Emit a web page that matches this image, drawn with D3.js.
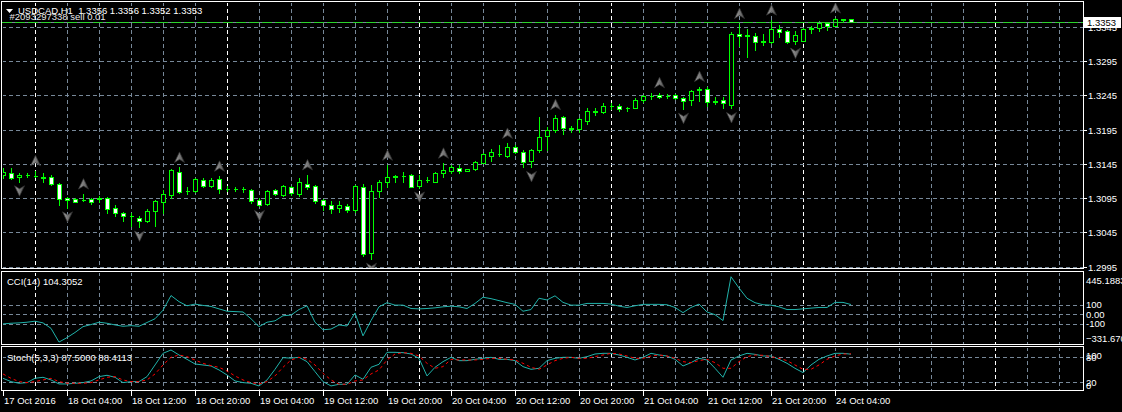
<!DOCTYPE html>
<html><head><meta charset="utf-8">
<script src="https://cdn.jsdelivr.net/npm/d3@7"></script>
<style>
html,body{margin:0;padding:0;background:#000;overflow:hidden}
svg{display:block}
text{font-family:"Liberation Sans",Arial,sans-serif;font-size:9.5px;white-space:pre}
</style>
</head><body><svg id="c" width="1122" height="412"></svg>
<script>
// ---------- DATA ----------
const symbol = "USDCAD,H1";
const orderLabel = "#2093297338 sell 0.01";
const sessions = [["2016-10-17",20,23],["2016-10-18",0,23],["2016-10-19",0,23],["2016-10-20",0,23],["2016-10-21",0,23],["2016-10-24",0,6]];
const open = [1.3129,1.3132,1.3126,1.3129,1.3127,1.3126,1.3126,1.3116,1.3095,1.3094,1.3093,1.3094,1.3096,1.3096,1.3080,1.3073,1.3069,1.3066,1.3062,1.3077,
1.3090,1.3100,1.3134,1.3106,1.3106,1.3121,1.3113,1.3123,1.3109,1.3109,1.3108,1.3107,1.3092,1.3086,1.3107,1.3100,1.3111,1.3101,1.3116,1.3113,
1.3092,1.3085,1.3081,1.3083,1.3078,1.3111,1.3015,1.3106,1.3118,1.3126,1.3127,1.3129,1.3113,1.3121,1.3119,1.3132,1.3135,1.3139,1.3135,1.3137,
1.3147,1.3157,1.3159,1.3157,1.3170,1.3162,1.3149,1.3165,1.3186,1.3195,1.3213,1.3196,1.3196,1.3208,1.3221,1.3221,1.3229,1.3230,1.3226,1.3227,
1.3238,1.3244,1.3246,1.3244,1.3245,1.3241,1.3238,1.3253,1.3254,1.3236,1.3238,1.3231,1.3335,1.3332,1.3332,1.3323,1.3323,1.3342,1.3339,1.3325,
1.3325,1.3342,1.3344,1.3351,1.3347,1.3355,1.3356];
const high = [1.3139,1.3139,1.3132,1.3132,1.3135,1.3132,1.3129,1.3117,1.3097,1.3095,1.3101,1.3095,1.3098,1.3097,1.3085,1.3075,1.3074,1.3069,1.3079,1.3092,
1.3107,1.3138,1.3140,1.3111,1.3125,1.3125,1.3125,1.3127,1.3113,1.3112,1.3111,1.3108,1.3095,1.3107,1.3108,1.3114,1.3113,1.3124,1.3129,1.3114,
1.3094,1.3091,1.3091,1.3087,1.3114,1.3116,1.3114,1.3122,1.3143,1.3129,1.3134,1.3130,1.3129,1.3126,1.3134,1.3146,1.3143,1.3143,1.3138,1.3149,
1.3161,1.3167,1.3173,1.3175,1.3173,1.3165,1.3167,1.3214,1.3199,1.3217,1.3215,1.3200,1.3212,1.3226,1.3227,1.3234,1.3234,1.3232,1.3228,1.3241,
1.3246,1.3248,1.3249,1.3247,1.3247,1.3243,1.3253,1.3258,1.3257,1.3243,1.3243,1.3337,1.3350,1.3342,1.3336,1.3335,1.3355,1.3348,1.3341,1.3339,
1.3343,1.3346,1.3354,1.3352,1.3358,1.3357,1.3356];
const low = [1.3125,1.3123,1.3119,1.3126,1.3126,1.3119,1.3114,1.3085,1.3081,1.3089,1.3091,1.3087,1.3090,1.3073,1.3069,1.3061,1.3054,1.3053,1.3060,1.3055,
1.3073,1.3095,1.3103,1.3101,1.3104,1.3111,1.3111,1.3103,1.3106,1.3106,1.3104,1.3088,1.3083,1.3085,1.3100,1.3098,1.3100,1.3098,1.3109,1.3088,
1.3078,1.3073,1.3075,1.3075,1.3075,1.3010,1.3006,1.3097,1.3112,1.3118,1.3118,1.3111,1.3110,1.3118,1.3118,1.3126,1.3132,1.3132,1.3135,1.3136,
1.3146,1.3150,1.3157,1.3155,1.3161,1.3141,1.3140,1.3162,1.3166,1.3192,1.3189,1.3192,1.3192,1.3204,1.3217,1.3219,1.3225,1.3223,1.3223,1.3226,
1.3236,1.3240,1.3242,1.3241,1.3240,1.3225,1.3231,1.3237,1.3230,1.3233,1.3227,1.3226,1.3317,1.3301,1.3311,1.3318,1.3321,1.3330,1.3322,1.3320,
1.3324,1.3336,1.3339,1.3340,1.3346,1.3352,1.3352];
const close = [1.3133,1.3125,1.3129,1.3129,1.3127,1.3125,1.3116,1.3094,1.3092,1.3090,1.3092,1.3090,1.3094,1.3079,1.3074,1.3069,1.3069,1.3062,1.3076,1.3091,
1.3101,1.3136,1.3104,1.3105,1.3123,1.3113,1.3122,1.3108,1.3109,1.3108,1.3109,1.3091,1.3085,1.3105,1.3101,1.3113,1.3102,1.3118,1.3111,1.3091,
1.3085,1.3079,1.3085,1.3078,1.3113,1.3014,1.3106,1.3118,1.3126,1.3127,1.3127,1.3112,1.3122,1.3122,1.3132,1.3136,1.3141,1.3135,1.3138,1.3148,
1.3159,1.3162,1.3160,1.3170,1.3162,1.3148,1.3166,1.3185,1.3195,1.3212,1.3197,1.3197,1.3210,1.3222,1.3222,1.3230,1.3230,1.3225,1.3227,1.3238,
1.3244,1.3244,1.3243,1.3244,1.3241,1.3237,1.3252,1.3254,1.3236,1.3237,1.3234,1.3335,1.3332,1.3333,1.3323,1.3325,1.3342,1.3338,1.3323,1.3334,
1.3342,1.3344,1.3351,1.3347,1.3357,1.3356,1.3353];
const fractalUp = [4,10,22,27,38,48,55,63,69,82,87,92,96,104];
const fractalDown = [2,8,17,32,46,52,66,85,91,99];
const cci = [-102,-95,-91,-84,-73,-91,-149,-295,-248,-193,-131,-109,-84,-95,-113,-127,-120,-127,-87,-47,
44,200,135,91,109,95,84,58,33,29,25,-47,-131,-84,-69,-15,-8,51,91,-84,
-164,-157,-113,-124,15,-229,-66,80,124,98,98,62,58,62,69,80,87,80,62,116,
182,167,146,124,106,33,51,171,153,197,127,98,98,116,116,116,109,87,73,91,
106,106,106,102,73,18,73,109,25,-4,-66,400,280,171,124,102,98,80,51,51,
58,66,73,73,127,127,104.3052];
const stochMain = [29.6,21.6,17.6,19.2,29.6,32,25.6,16,16,17.6,19.2,23.2,33.6,36.8,32,19.2,21.6,21.6,33.6,61.6,
89.6,97.6,85.6,75.2,64,61.6,59.2,49.6,37.6,23.2,19.2,17.6,11.2,25.6,51.2,79.2,78,80,69.6,45.6,
21.6,11.2,15.2,15.2,37.6,27.2,56,63.2,92,92,91.2,88,77.6,35.2,56,69.6,80,72,72,75.2,
77.6,80,75.2,75.2,72,57.6,51.2,53.6,72,77.6,80,80,77.6,81.6,88,89.6,89.6,85.6,80,73.6,
80,89.6,85.6,83.2,75.2,59.2,67.2,77.6,73.6,53.6,32,73.6,83.2,89.6,87.2,83.2,83.2,75.2,65.6,53.6,
43.2,61.6,75.2,83.2,89.6,89.6,87.5];
const stochSignal = [40,29.6,21.6,19.2,21.6,25.6,29.6,21.6,17.6,17.6,17.6,19.2,25.6,32,33.6,25.6,21.6,21.6,25.6,40,
61.6,80,85.6,81.6,73.6,65.6,60,56,47.2,35.2,25.6,19.2,16,21.6,35.2,56,73.6,80,75.2,61.6,
41.6,25.6,15.2,15.2,23.2,25.6,40,49.6,73.6,88,91.2,89.6,83.2,65.6,53.6,57.6,75.2,73.6,73.6,73.6,
75.2,77.6,77.6,75.2,73.6,65.6,56,51.2,61.6,72,77.6,80,77.6,77.6,81.6,85.6,89.6,88,83.2,77.6,
77.6,83.2,85.6,83.2,77.6,69.6,67.2,72,75.2,67.2,53.6,53.6,69.6,81.6,85.6,84.8,81.6,77.6,72,61.6,
51.2,51.2,61.6,75.2,83.2,88,88.4113];
const priceTicks = [1.3345,1.3295,1.3245,1.3195,1.3145,1.3095,1.3045,1.2995];
const cciLevels = [100,0,-100];
const cciLevelLabels = ["100","0.00","-100"];
const cciRange = [-331.670,445.1883];
const stochLevels = [80,20];
const timeTickLabels = ["17 Oct 2016","18 Oct 04:00","18 Oct 12:00","18 Oct 20:00","19 Oct 04:00","19 Oct 12:00","19 Oct 20:00","20 Oct 04:00","20 Oct 12:00","20 Oct 20:00","21 Oct 04:00","21 Oct 12:00","21 Oct 20:00","24 Oct 04:00"];
const timeTickTimes = ["2016-10-17 20","2016-10-18 04","2016-10-18 12","2016-10-18 20","2016-10-19 04","2016-10-19 12","2016-10-19 20","2016-10-20 04","2016-10-20 12","2016-10-20 20","2016-10-21 04","2016-10-21 12","2016-10-21 20","2016-10-24 04"];

// ---------- SETUP ----------
const svg = d3.select("#c");
const W = 1122, H = 412;
svg.append("rect").attr("width", W).attr("height", H).attr("fill", "#000");
const parse = d3.utcParse("%Y-%m-%d %H");
const barTimes = [];
sessions.forEach(([d, a, b]) => { for (let h = a; h <= b; h++) barTimes.push(parse(d + " " + String(h).padStart(2, "0"))); });
const N = barTimes.length;
const slots = 135;
const allTimes = d3.range(slots + 1).map(i => i < N ? barTimes[i] : d3.utcHour.offset(barTimes[N - 1], i - N + 1));

const L = 2, R = 1083;
const panes = { main: { top: 2, bottom: 269 }, cci: { top: 272, bottom: 345 }, sto: { top: 347, bottom: 391 } };
const x = d3.scaleLinear().domain([0, slots]).range([3, 1083]);
const yP = d3.scaleLinear().domain([1.2995, 1.3345]).range([266.7, 27]);
const yC = d3.scaleLinear().domain(cciRange).range([345.5, 272.5]);
const yS = d3.scaleLinear().domain([0, 100]).range([390.6, 349]);
const px = v => Math.round(v) + 0.5;
const GRID = "#778899", GREEN = "#00ff00", CYAN = "#20b2aa";
const fmt4 = d3.format(".4f");

const defs = svg.append("defs");
Object.entries(panes).forEach(([k, p]) => {
  defs.append("clipPath").attr("id", "clip-" + k).append("rect")
    .attr("x", L + 1).attr("y", p.top + 1).attr("width", R - L - 1).attr("height", p.bottom - p.top - 1);
});
const grad = defs.append("linearGradient").attr("id", "arr").attr("x1", 0).attr("x2", 1).attr("y1", 0).attr("y2", 0);
grad.append("stop").attr("offset", "0%").attr("stop-color", "#9a9a9a");
grad.append("stop").attr("offset", "50%").attr("stop-color", "#7a7a7a");
grad.append("stop").attr("offset", "100%").attr("stop-color", "#4a4a4a");

// ---------- GRID ----------
const vIdx = d3.range(4, slots, 4);
Object.entries(panes).forEach(([k, p]) => {
  const g = svg.append("g").attr("clip-path", `url(#clip-${k})`);
  g.selectAll("line.v").data(vIdx).join("line")
    .attr("x1", i => px(x(i))).attr("x2", i => px(x(i)))
    .attr("y1", p.top).attr("y2", p.bottom)
    .attr("stroke", i => allTimes[i].getUTCHours() === 0 ? "#ffffff" : GRID)
    .attr("stroke-dasharray", "4,3").attr("shape-rendering", "crispEdges");
  let levels = [], sc;
  if (k === "main") { levels = priceTicks; sc = yP; }
  if (k === "cci") { levels = cciLevels; sc = yC; }
  if (k === "sto") { levels = stochLevels; sc = yS; }
  g.selectAll("line.h").data(levels).join("line")
    .attr("x1", L).attr("x2", R)
    .attr("y1", d => px(sc(d))).attr("y2", d => px(sc(d)))
    .attr("stroke", GRID).attr("stroke-dasharray", "4,3").attr("shape-rendering", "crispEdges");
});

// ---------- CANDLES ----------
const bars = d3.range(N);
const gc = svg.append("g").attr("clip-path", "url(#clip-main)").attr("shape-rendering", "crispEdges");
gc.selectAll("line.wick").data(bars).join("line")
  .attr("x1", i => Math.round(x(i)) + 0.5).attr("x2", i => Math.round(x(i)) + 0.5)
  .attr("y1", i => Math.round(yP(high[i]))).attr("y2", i => Math.round(yP(low[i])) + 1)
  .attr("stroke", GREEN);
gc.selectAll("path.body").data(bars).join("path")
  .attr("d", i => {
    const c = Math.round(x(i));
    const t = Math.round(yP(Math.max(open[i], close[i])));
    const b = Math.round(yP(Math.min(open[i], close[i])));
    return `M${c - 1.5},${t + 0.5}H${c + 2.5}V${b + 0.5}H${c - 1.5}Z`;
  })
  .attr("fill", i => close[i] < open[i] ? "#ffffff" : "#000000")
  .attr("stroke", GREEN);

// ---------- FRACTALS ----------
const gf = svg.append("g").attr("clip-path", "url(#clip-main)");
gf.selectAll("path.fu").data(fractalUp).join("path")
  .attr("transform", i => `translate(${Math.round(x(i)) + 0.5},${yP(high[i]) - 10})`)
  .attr("d", "M0,-5.5L5,5L0,2L-5,5Z")
  .attr("fill", "url(#arr)").attr("stroke", "#333").attr("stroke-width", 0.7);
gf.selectAll("path.fd").data(fractalDown).join("path")
  .attr("transform", i => `translate(${Math.round(x(i)) + 0.5},${yP(low[i]) + 9})`)
  .attr("d", "M0,5.5L5,-5L0,-2L-5,-5Z")
  .attr("fill", "url(#arr)").attr("stroke", "#333").attr("stroke-width", 0.7);

// ---------- CURRENT PRICE LINE ----------
const lastClose = close[N - 1];
svg.append("line").attr("x1", L).attr("x2", R).attr("y1", px(yP(lastClose))).attr("y2", px(yP(lastClose)))
  .attr("stroke", GRID).attr("shape-rendering", "crispEdges");
svg.append("line").attr("x1", L).attr("x2", R).attr("y1", px(yP(lastClose))).attr("y2", px(yP(lastClose)))
  .attr("stroke", "#2ad42a").attr("stroke-dasharray", "10,3").attr("shape-rendering", "crispEdges");

// ---------- INDICATORS ----------
const lineCCI = d3.line().x((d, i) => x(i)).y(d => yC(d));
svg.append("g").attr("clip-path", "url(#clip-cci)").append("path")
  .datum(cci).attr("d", lineCCI).attr("fill", "none").attr("stroke", CYAN).attr("stroke-width", 1);
const lineS = d3.line().x((d, i) => x(i)).y(d => yS(d));
const gs = svg.append("g").attr("clip-path", "url(#clip-sto)");
gs.append("path").datum(stochMain).attr("d", lineS).attr("fill", "none").attr("stroke", CYAN).attr("stroke-width", 1);
gs.append("path").datum(stochSignal).attr("d", lineS).attr("fill", "none").attr("stroke", "#ff0000")
  .attr("stroke-width", 1).attr("stroke-dasharray", "3,3");

// ---------- PANE BORDERS ----------
Object.values(panes).forEach(p => {
  svg.append("rect").attr("x", L - 0.5).attr("y", p.top - 0.5).attr("width", R - L + 1).attr("height", p.bottom - p.top)
    .attr("fill", "none").attr("stroke", "#ffffff").attr("shape-rendering", "crispEdges");
});

// ---------- RIGHT AXIS LABELS ----------
const ga = svg.append("g").attr("fill", "#ffffff");
priceTicks.forEach(v => {
  const yy = px(yP(v));
  ga.append("line").attr("x1", R).attr("x2", R + 4).attr("y1", yy).attr("y2", yy).attr("stroke", "#fff").attr("shape-rendering", "crispEdges");
  ga.append("text").attr("x", 1088).attr("y", yy + 3.5).text(fmt4(v));
});
const yLast = px(yP(lastClose));
svg.append("rect").attr("x", 1083).attr("y", yLast - 5.5).attr("width", 38).attr("height", 11).attr("fill", "#ffffff");
svg.append("text").attr("x", 1087).attr("y", yLast + 3.5).attr("fill", "#000").text(fmt4(lastClose));
ga.append("text").attr("x", 1086).attr("y", yC(cciRange[1]) + 11).text(d3.format(".4f")(cciRange[1]));
ga.append("text").attr("x", 1086).attr("y", yC(cciRange[0]) - 3.5).text(d3.format(".3f")(cciRange[0]));
cciLevels.forEach((v, i) => ga.append("text").attr("x", 1086).attr("y", yC(v) + 3.5).text(cciLevelLabels[i]));
ga.append("text").attr("x", 1086).attr("y", yS(100) + 10).text("100");
ga.append("text").attr("x", 1086).attr("y", yS(80) + 3.5).text("80");
ga.append("text").attr("x", 1086).attr("y", yS(20) + 3.5).text("20");
ga.append("text").attr("x", 1086).attr("y", yS(0) - 2).text("0");

// ---------- TIME AXIS ----------
const gt = svg.append("g").attr("fill", "#ffffff");
timeTickTimes.forEach((s, k) => {
  const i = barTimes.findIndex(t => +t === +parse(s));
  const xx = Math.round(x(i)) + 0.5;
  gt.append("line").attr("x1", xx).attr("x2", xx).attr("y1", 391).attr("y2", 396).attr("stroke", "#fff").attr("shape-rendering", "crispEdges");
  gt.append("text").attr("x", xx + 0.5).attr("y", 404).text(timeTickLabels[k]);
});

// ---------- HEADERS ----------
svg.append("path").attr("d", "M6,9H13L9.5,13Z").attr("fill", "#fff");
svg.append("text").attr("x", 18).attr("y", 14).attr("fill", "#fff")
  .text(`${symbol}  ${fmt4(open[N - 1])} ${fmt4(high[N - 1])} ${fmt4(low[N - 1])} ${fmt4(close[N - 1])}`);
svg.append("text").attr("x", 9.5).attr("y", 19.5).attr("fill", "#e8e8e8").text(orderLabel);
svg.append("text").attr("x", 7).attr("y", 285).attr("fill", "#fff").text(`CCI(14) ${d3.format(".4f")(cci[N - 1])}`);
svg.append("text").attr("x", 7).attr("y", 361).attr("fill", "#fff")
  .text(`Stoch(5,3,3) ${d3.format(".4f")(stochMain[N - 1])} ${d3.format(".4f")(stochSignal[N - 1])}`);
</script>
</body></html>
